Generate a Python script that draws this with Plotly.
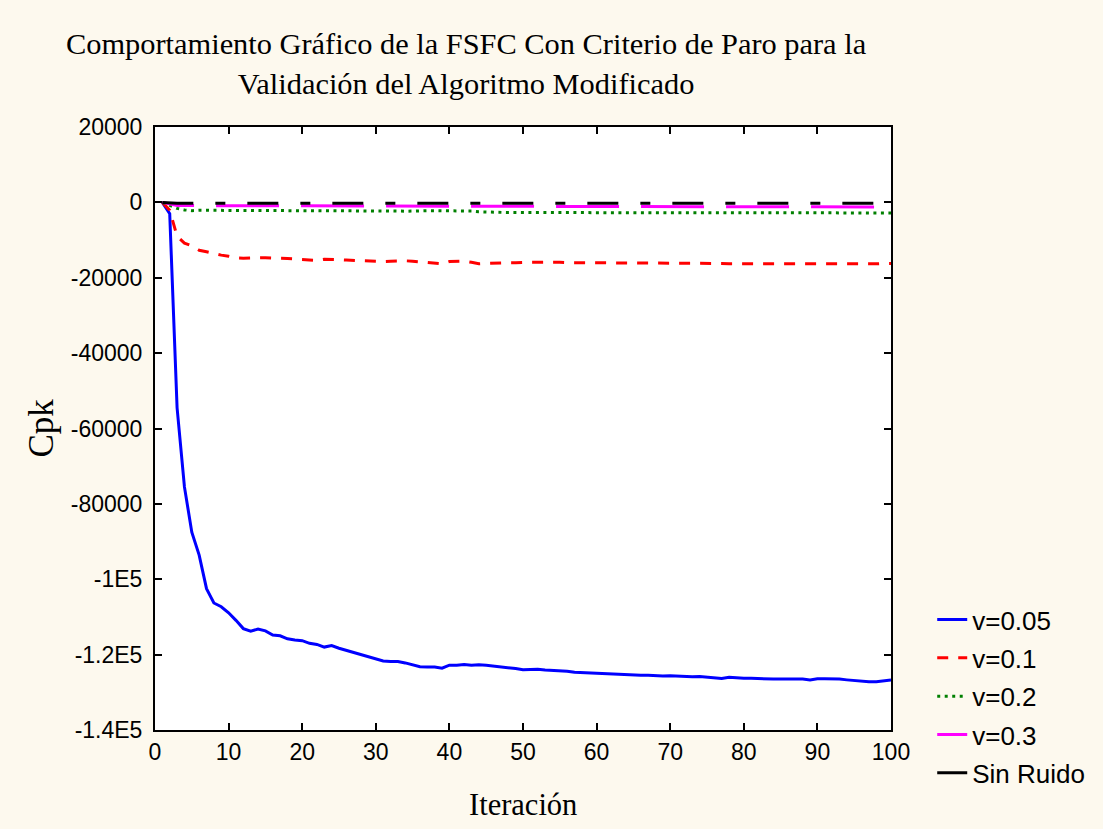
import plotly.graph_objects as go

iteraciones = list(range(1, 101))

v005 = [0, -3000, -54500, -75500, -87500, -93600, -102500, -106300, -107300, -108900,
        -110900, -113100, -113800, -113200, -113700, -114800, -115000, -115800, -116100, -116300,
        -117000, -117300, -118000, -117600, -118300, -118900, -119400, -120000, -120500, -121100,
        -121700, -121800, -121800, -122200, -122800, -123200, -123300, -123300, -123600, -122800,
        -122800, -122600, -122800, -122700, -122800, -123000, -123200, -123500, -123700, -124000,
        -124000, -123900, -124100, -124200, -124400, -124400, -124700, -124800, -125000, -125000,
        -125200, -125300, -125400, -125500, -125400, -125500, -125500, -125600, -125700, -125600,
        -125700, -125800, -125900, -125800, -125900, -126100, -126300, -126000, -126200, -126300,
        -126300, -126400, -126400, -126500, -126500, -126500, -126500, -126500, -126700, -126400,
        -126400, -126400, -126500, -126700, -126900, -127100, -127200, -127200, -126900, -126700]

v01 = [0, -2100, -9000, -10800, -11500, -12700, -13100, -13600, -14000, -14300,
       -14700, -14800, -14700, -14700, -14700, -14800, -14800, -14900, -15000, -15100,
       -15200, -15400, -15100, -15100, -15200, -15300, -15400, -15500, -15500, -15600,
       -15700, -15600, -15500, -15500, -15600, -15800, -15900, -16100, -16300, -15700,
       -15600, -15600, -15900, -16300, -16200, -16100, -16000, -16000, -16000, -15900,
       -15900, -15900, -15900, -15800, -15900, -16000, -16000, -16100, -16100, -16100,
       -16100, -16100, -16100, -16100, -16100, -16100, -16100, -16100, -16100, -16100,
       -16100, -16100, -16100, -16200, -16200, -16200, -16200, -16300, -16300, -16300,
       -16300, -16300, -16300, -16400, -16400, -16500, -16500, -16400, -16300, -16300,
       -16300, -16400, -16400, -16400, -16300, -16300, -16300, -16300, -16200, -16200]

v02 = [0, -800, -1600, -2000, -2200, -2100, -2100, -2100, -2100, -2100,
       -2100, -2100, -2100, -2100, -2100, -2100, -2100, -2100, -2100, -2100,
       -2100, -2150, -2150, -2150, -2150, -2150, -2150, -2150, -2150, -2150,
       -2200, -2300, -2300, -2350, -2250, -2200, -2200, -2200, -2200, -2200,
       -2200, -2200, -2300, -2500, -2600, -2650, -2700, -2700, -2700, -2700,
       -2700, -2700, -2750, -2800, -2800, -2800, -2800, -2800, -2800, -2800,
       -2800, -2700, -2650, -2700, -2750, -2800, -2800, -2800, -2800, -2800,
       -2800, -2800, -2800, -2800, -2750, -2650, -2650, -2700, -2800, -2800,
       -2800, -2800, -2800, -2800, -2800, -2800, -2800, -2700, -2650, -2700,
       -2800, -2800, -2800, -2800, -2800, -2800, -2800, -2800, -2800, -2800]

v03 = [0, -500, -800, -850, -850, -850, -850, -850, -850, -850,
       -850, -850, -850, -850, -850, -850, -850, -850, -850, -900,
       -900, -900, -900, -900, -900, -900, -900, -900, -900, -950,
       -950, -950, -950, -950, -950, -950, -950, -950, -1000, -1000,
       -1000, -1000, -1000, -1000, -1000, -1000, -1000, -1050, -1050, -1050,
       -1050, -1050, -1050, -1100, -1100, -1100, -1100, -1100, -1100, -1100,
       -1100, -1100, -1100, -1100, -1100, -1100, -1100, -1150, -1150, -1150,
       -1150, -1150, -1150, -1150, -1150, -1150, -1150, -1150, -1150, -1150,
       -1150, -1150, -1200, -1200, -1200, -1200, -1200, -1200, -1200, -1200,
       -1200, -1200, -1200, -1200, -1200, -1200, -1200, -1200, -1200, -1200]

sin_ruido = [0, -150, -200, -200, -200, -200, -200, -200, -200, -200,
             -200, -200, -200, -200, -200, -200, -200, -200, -200, -200,
             -200, -200, -200, -200, -200, -200, -200, -200, -200, -200,
             -200, -200, -200, -200, -200, -200, -200, -200, -200, -200,
             -200, -200, -200, -200, -200, -200, -200, -200, -200, -200,
             -200, -200, -200, -200, -200, -200, -200, -200, -200, -200,
             -200, -200, -200, -200, -200, -200, -200, -200, -200, -200,
             -200, -200, -200, -200, -200, -200, -200, -200, -200, -200,
             -200, -200, -200, -200, -200, -200, -200, -200, -200, -200,
             -200, -200, -200, -200, -200, -200, -200, -200, -200, -200]

series_names = ["v=0.05", "v=0.1", "v=0.2", "v=0.3", "Sin Ruido"]

y_tickvals = [20000, 0, -20000, -40000, -60000, -80000, -100000, -120000, -140000]
y_ticktext = ["20000", "0", "-20000", "-40000", "-60000", "-80000", "-1E5", "-1.2E5", "-1.4E5"]
x_tickvals = [0, 10, 20, 30, 40, 50, 60, 70, 80, 90, 100]

title_text = ("Comportamiento Gráfico de la FSFC Con Criterio de Paro para la<br>"
              "Validación del Algoritmo Modificado")

magenta_dash = "32px,22px," + ",".join(["63px,22px"] * 10)
black_dash = "31px,22px,10px,22px"

series = [v005, v01, v02, v03, sin_ruido]
styles = [dict(color="#0000ff", width=3),
          dict(color="#ff0000", width=3, dash="11px,10px"),
          dict(color="#008000", width=3, dash="3px,4.5px"),
          dict(color="#ff00ff", width=3, dash=magenta_dash),
          dict(color="#000000", width=3, dash=black_dash)]

fig = go.Figure()
for name, vals, st in zip(series_names, series, styles):
    fig.add_trace(go.Scatter(x=iteraciones, y=vals, mode="lines", name=name,
                             legendgroup=name, line=st))

axis_common = dict(showline=True, linecolor="black", linewidth=2, mirror="ticks",
                   ticks="inside", ticklen=7, tickwidth=2, tickcolor="black",
                   showgrid=False, zeroline=False,
                   tickfont=dict(family="Liberation Sans, Arial", size=23, color="black"))

fig.update_layout(
    width=1103, height=829,
    paper_bgcolor="#fdf9ee", plot_bgcolor="white",
    margin=dict(l=155, r=212, t=127, b=99),
    xaxis=dict(range=[0, 100], tickvals=x_tickvals, **axis_common),
    yaxis=dict(range=[-140000, 20000], tickvals=y_tickvals, ticktext=y_ticktext,
               ticklabelstandoff=6, **axis_common),
    showlegend=True,
    legend=dict(x=1.056, xanchor="left", y=0.222, yanchor="top",
                font=dict(family="Liberation Sans, Arial", size=26, color="black"),
                bgcolor="rgba(0,0,0,0)", tracegroupgap=1.5),
    annotations=[
        dict(text=title_text, xref="paper", yref="paper", x=0.4226, y=1.0,
             yshift=63, xanchor="center", yanchor="middle", showarrow=False,
             font=dict(family="Liberation Serif, Times New Roman", size=30.4, color="black")),
        dict(text="Iteración", xref="paper", yref="paper", x=0.5, y=0, yshift=-75,
             xanchor="center", yanchor="middle", showarrow=False,
             font=dict(family="Liberation Serif, Times New Roman", size=30.5, color="black")),
        dict(text="Cpk", xref="paper", yref="paper", x=0, xshift=-114, y=0.5,
             xanchor="center", yanchor="middle", textangle=-90, showarrow=False,
             font=dict(family="Liberation Serif, Times New Roman", size=35, color="black")),
    ],
)

fig.write_html("out.html", config={"displayModeBar": False},
               post_script="document.body.style.margin='0px';document.body.style.background='#fdf9ee';")
